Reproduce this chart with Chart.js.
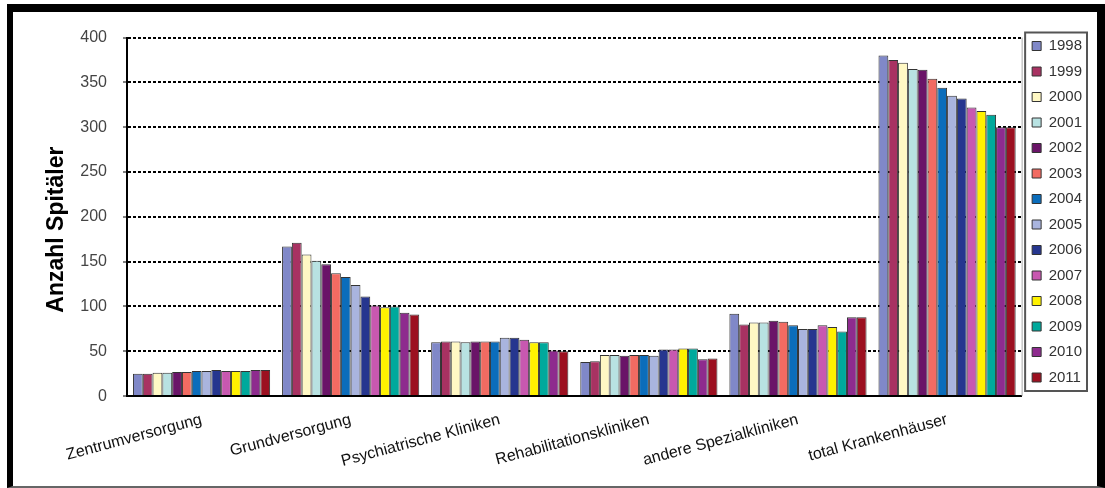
<!DOCTYPE html>
<html>
<head>
<meta charset="utf-8">
<script src="https://cdn.jsdelivr.net/npm/chart.js@4"></script>
<style>
  body { margin: 0; background: #fff; }
  #frame {
    position: absolute; left: 7px; top: 4px;
    width: 1084px; height: 474px;
    border-left: 6px solid #000; border-top: 8px solid #000;
    border-right: 8px solid #000; border-bottom: 2px solid #666;
    background: #fff;
  }
</style>
</head>
<body>
<div id="frame"><canvas id="spitalChart" width="1084" height="474"></canvas></div>
<script>
// Categories and years
const categories = ['Zentrumversorgung', 'Grundversorgung', 'Psychiatrische Kliniken',
    'Rehabilitationskliniken', 'andere Spezialkliniken', 'total Krankenhäuser'];
const years = ['1998', '1999', '2000', '2001', '2002', '2003', '2004',
    '2005', '2006', '2007', '2008', '2009', '2010', '2011'];

// Values per category, one per year (1998 - 2011)
const zentrum = [25, 25, 26, 26, 27, 27, 28, 28, 29, 28, 28, 28, 29, 29];
const grund = [167, 171, 158, 151, 147, 137, 133, 124, 111, 101, 99, 100, 93, 91];
const psych = [60, 61, 61, 60, 61, 61, 61, 65, 65, 63, 60, 60, 51, 50];
const reha = [38, 39, 46, 46, 45, 46, 46, 45, 52, 52, 53, 53, 41, 42];
const spezial = [92, 80, 82, 82, 84, 83, 79, 75, 75, 79, 77, 72, 88, 88];
const total = [380, 375, 372, 365, 364, 354, 344, 335, 332, 322, 318, 314, 300, 300];

const yTicks = [0, 50, 100, 150, 200, 250, 300, 350, 400];

const colors = ['#8088c8', '#a83262', '#fff8c4', '#b8e2e2', '#6a1468', '#f26b62', '#0b6dbb',
    '#a9b4de', '#26368f', '#c858b0', '#fff200', '#00a99c', '#8e2b8e', '#9c1020'];

const series = [zentrum, grund, psych, reha, spezial, total];

const font = 'Liberation Sans, Arial, sans-serif';

// frame around legend + thin right edge of plot area
const legendBox = {
    id: 'legendBox',
    afterDraw(chart) {
        const ctx = chart.ctx;
        const area = chart.chartArea;
        ctx.save();
        ctx.strokeStyle = '#aaa';
        ctx.lineWidth = 1;
        ctx.beginPath();
        ctx.moveTo(area.right + 0.5, area.top);
        ctx.lineTo(area.right + 0.5, area.bottom);
        ctx.stroke();

        const boxes = chart.legend.legendHitBoxes;
        if (boxes && boxes.length) {
            const first = boxes[0];
            const last = boxes[boxes.length - 1];
            const left = Math.min(...boxes.map(b => b.left));
            const right = Math.max(...boxes.map(b => b.left + b.width));
            ctx.strokeStyle = '#555';
            ctx.lineWidth = 2;
            ctx.strokeRect(left - 7, first.top - 6, right - left + 12, last.top + last.height - first.top + 12);
        }
        ctx.restore();
    }
};

new Chart(document.getElementById('spitalChart'), {
    type: 'bar',
    data: {
        labels: categories,
        datasets: years.map((year, i) => ({
            label: year,
            data: series.map(s => s[i]),
            backgroundColor: colors[i],
            borderColor: '#333',
            borderWidth: 1,
            categoryPercentage: 0.92,
            barPercentage: 1.0
        }))
    },
    options: {
        responsive: false,
        animation: false,
        devicePixelRatio: 1,
        layout: {
            padding: { left: 30, top: 16, right: 5, bottom: 9 }
        },
        plugins: {
            legend: {
                position: 'right',
                align: 'start',
                labels: {
                    boxWidth: 9,
                    boxHeight: 9,
                    padding: 10.5,
                    color: '#333',
                    font: { family: font, size: 15 }
                }
            },
            tooltip: { enabled: false }
        },
        scales: {
            x: {
                grid: { display: false },
                border: { display: true, color: '#000', width: 2 },
                ticks: {
                    color: '#111',
                    maxRotation: 15,
                    minRotation: 15,
                    padding: 6,
                    font: { family: font, size: 16 }
                }
            },
            y: {
                min: 0,
                max: 400,
                afterBuildTicks: axis => {
                    axis.ticks = yTicks.map(v => ({ value: v }));
                },
                afterFit: axis => {
                    axis.width = 84;
                },
                grid: {
                    color: '#000',
                    lineWidth: 2,
                    tickColor: '#000',
                    tickLength: 4,
                    tickWidth: 1
                },
                border: { display: true, color: '#000', width: 2, dash: [3, 2] },
                ticks: {
                    color: '#444',
                    padding: 16,
                    font: { family: font, size: 16 }
                },
                title: {
                    display: true,
                    text: 'Anzahl Spitäler    ',
                    color: '#000',
                    padding: { top: 0, bottom: 0 },
                    font: { family: font, size: 23, weight: 'bold' }
                }
            }
        }
    },
    plugins: [legendBox]
});
</script>
</body>
</html>
